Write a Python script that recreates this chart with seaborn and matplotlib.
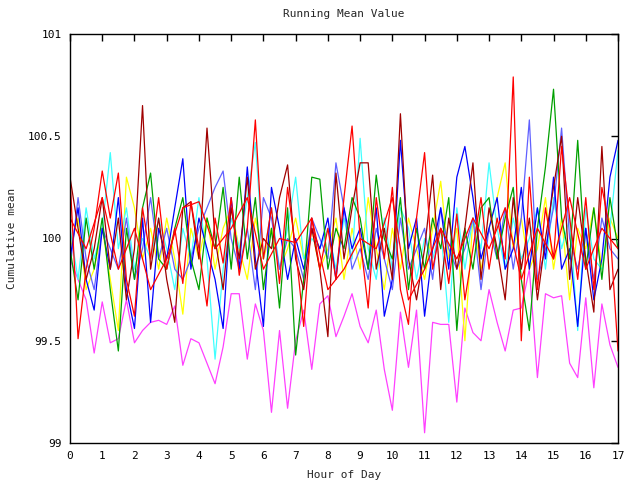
import pandas as pd
import matplotlib
matplotlib.use('Agg')
import matplotlib.pyplot as plt
import seaborn as sns

# hours sampled every quarter hour, 0..17
hours = [i * 0.25 for i in range(69)]
# one series only logged every half hour
hours_half = [i * 0.5 for i in range(35)]

magenta = [99.90, 99.80, 99.70, 99.44, 99.69, 99.49, 99.51, 99.70, 99.49, 99.55, 99.59, 99.60,
           99.58, 99.67, 99.38, 99.51, 99.49, 99.39, 99.29, 99.47, 99.73, 99.73, 99.41, 99.68,
           99.55, 99.15, 99.55, 99.17, 99.50, 99.65, 99.36, 99.68, 99.72, 99.52, 99.62, 99.73,
           99.57, 99.49, 99.65, 99.36, 99.16, 99.64, 99.37, 99.65, 99.05, 99.59, 99.58, 99.58,
           99.20, 99.66, 99.54, 99.50, 99.75, 99.59, 99.45, 99.65, 99.66, 99.85, 99.32, 99.73,
           99.71, 99.72, 99.39, 99.32, 99.71, 99.27, 99.68, 99.48, 99.37]
yellow = [99.95, 100.10, 99.75, 99.85, 100.05, 99.80, 99.55, 100.30, 100.15, 99.90, 100.05, 99.85,
          100.10, 99.90, 99.63, 100.05, 99.90, 100.10, 99.85, 100.05, 100.15, 99.95, 99.80, 100.10,
          99.90, 100.05, 99.85, 99.95, 100.10, 99.90, 100.05, 99.85, 99.95, 100.10, 99.80, 100.05,
          99.85, 100.20, 99.95, 99.75, 100.05, 99.85, 100.10, 99.95, 99.80, 100.05, 100.28, 99.90,
          100.05, 99.50, 100.10, 99.85, 100.05, 100.20, 100.37, 99.95, 100.10, 99.85, 99.95, 100.20,
          99.85, 100.10, 99.70, 100.05, 99.95, 100.15, 99.85, 100.10, 100.00]
cyan = [100.05, 99.80, 100.15, 99.90, 100.05, 100.42, 99.95, 100.15, 99.85, 100.00, 99.90, 100.10,
        99.95, 99.75, 100.05, 99.90, 100.20, 99.90, 99.41, 99.85, 100.10, 99.95, 100.20, 100.47,
        99.90, 100.15, 99.85, 100.05, 100.30, 99.90, 100.00, 99.95, 100.05, 99.85, 100.10, 99.90,
        100.49, 99.95, 99.80, 100.10, 99.85, 100.15, 100.05, 99.80, 100.00, 99.90, 100.05, 99.59,
        100.15, 99.85, 100.10, 99.95, 100.37, 100.05, 99.85, 100.10, 99.90, 100.00, 100.15, 99.85,
        100.20, 99.95, 100.10, 99.55, 100.15, 99.90, 99.85, 100.05, 100.43]
slateblue = [99.85, 100.20, 99.90, 99.75, 100.05, 99.95, 99.85, 100.10, 99.80, 99.95, 100.20, 99.90,
             100.05, 99.85, 99.80, 99.90, 100.05, 100.15, 100.25, 100.33, 100.00, 99.85, 100.05, 99.75,
             100.20, 100.10, 99.85, 100.00, 99.95, 99.80, 100.10, 100.00, 99.90, 100.37, 100.15, 99.85,
             99.95, 99.80, 100.05, 99.90, 99.75, 100.10, 99.85, 99.95, 100.05, 99.80, 100.15, 99.95,
             99.85, 99.95, 100.10, 99.75, 100.05, 99.90, 100.15, 99.85, 100.10, 100.58, 99.80, 99.95,
             100.15, 100.54, 100.00, 99.85, 100.05, 99.80, 100.10, 99.95, 99.90]
blue = [99.90, 100.15, 99.80, 99.65, 100.05, 99.85, 100.20, 99.75, 99.56, 100.10, 99.59, 100.05,
        99.90, 100.15, 100.39, 99.85, 100.10, 99.95, 99.80, 99.56, 100.20, 99.85, 100.35, 99.90,
        99.57, 100.25, 100.05, 99.80, 100.00, 99.85, 100.05, 99.95, 100.10, 99.80, 100.15, 99.95,
        100.05, 99.85, 100.15, 99.62, 99.80, 100.48, 99.95, 100.10, 99.62, 99.95, 100.15, 99.85,
        100.30, 100.45, 100.20, 99.90, 100.05, 100.20, 99.85, 99.95, 100.25, 99.85, 100.15, 99.90,
        100.30, 99.85, 99.95, 99.57, 100.05, 99.70, 99.90, 100.30, 100.48]
green = [99.95, 99.70, 100.10, 99.85, 100.10, 99.75, 99.45, 100.05, 99.80, 100.15, 100.32, 99.90,
         99.85, 100.05, 100.20, 99.90, 99.75, 100.10, 99.95, 100.25, 99.85, 100.30, 99.90, 100.20,
         99.75, 100.05, 99.66, 100.15, 99.43, 99.80, 100.30, 100.29, 99.85, 100.05, 99.95, 100.20,
         100.10, 99.85, 100.31, 100.00, 99.90, 100.20, 99.75, 100.05, 99.85, 100.10, 99.95, 100.20,
         99.55, 100.05, 99.85, 100.15, 100.20, 99.90, 100.10, 100.25, 99.80, 99.55, 100.05, 100.35,
         100.73, 100.10, 99.90, 100.48, 99.85, 100.15, 99.80, 100.20, 99.95]
darkred = [100.30, 100.05, 99.80, 99.95, 100.20, 99.85, 100.10, 99.70, 99.95, 100.65, 99.85, 100.10,
           99.80, 99.59, 100.15, 100.18, 99.90, 100.54, 100.00, 99.75, 100.15, 99.90, 100.30, 99.85,
           100.00, 99.95, 100.20, 100.36, 99.90, 99.75, 100.05, 99.85, 99.52, 100.32, 99.90, 100.15,
           100.37, 100.37, 99.85, 100.05, 99.80, 100.61, 99.90, 99.70, 99.95, 100.31, 99.75, 100.10,
           99.85, 100.05, 100.37, 99.80, 100.15, 99.95, 99.70, 100.20, 99.85, 100.10, 99.70, 100.00,
           100.25, 100.50, 99.80, 100.20, 99.90, 99.64, 100.45, 99.75, 99.85]
red_slow = [100.10, 99.95, 100.20, 99.85, 100.05, 99.75, 99.90, 100.15, 100.18, 99.95, 100.05, 100.20,
            99.85, 100.00, 99.98, 100.10, 99.75, 99.85, 100.00, 99.95, 100.20, 99.70, 99.85, 100.05,
            99.90, 100.10, 99.95, 100.15, 99.80, 100.05, 99.90, 100.20, 99.85, 100.05, 99.95]
red = [100.30, 99.51, 99.85, 100.05, 100.33, 100.10, 100.32, 99.80, 99.62, 100.15, 99.90, 100.20,
       99.85, 100.05, 99.78, 100.18, 99.95, 99.67, 100.10, 99.88, 100.20, 99.82, 100.05, 100.58,
       99.90, 100.15, 99.78, 100.25, 99.95, 99.57, 100.10, 99.85, 100.05, 99.80, 100.20, 100.55,
       100.00, 99.66, 100.20, 99.90, 100.25, 99.75, 99.58, 100.10, 100.42, 99.85, 100.05, 99.78,
       100.12, 99.70, 99.95, 100.20, 99.85, 100.10, 99.90, 100.79, 99.50, 100.30, 99.75, 100.15,
       99.90, 100.45, 100.10, 99.80, 100.20, 99.75, 100.25, 100.05, 99.45]

series = {'magenta': (hours, magenta), 'yellow': (hours, yellow), 'cyan': (hours, cyan),
          'slateblue': (hours, slateblue), 'blue': (hours, blue), 'green': (hours, green),
          'darkred': (hours, darkred), 'red_slow': (hours_half, red_slow), 'red': (hours, red)}
palette = {'magenta': '#ff40ff', 'yellow': '#ffff00', 'cyan': '#40ffff', 'slateblue': '#6060ff',
           'blue': '#0000ff', 'green': '#00a000', 'darkred': '#a00000', 'red_slow': '#ff0000',
           'red': '#ff0000'}

rows = []
for name, (xs, vals) in series.items():
    for h, v in zip(xs, vals):
        rows.append({'hour': h, 'value': v, 'series': name})
df = pd.DataFrame(rows)

sns.set_style('white')
plt.rcParams['font.family'] = ['DejaVu Sans Mono']
plt.rcParams['font.size'] = 8

fig = plt.figure(figsize=(6.4, 4.8), dpi=100)
ax = fig.add_axes([70 / 640, 1 - 443 / 480, 548 / 640, 409 / 480])
sns.lineplot(data=df, x='hour', y='value', hue='series', hue_order=list(series.keys()),
             palette=palette, estimator=None, linewidth=0.9, legend=False, ax=ax)

ax.set_xlim(0, 17)
ax.set_ylim(99, 101)
ax.set_xticks(range(0, 18))
ax.set_yticks([99, 99.5, 100, 100.5, 101])
ax.set_yticklabels(['99', '99.5', '100', '100.5', '101'])
ax.tick_params(direction='in', length=5, width=1, top=True, right=True, colors='black',
               labelsize=8, pad=6)
for s in ax.spines.values():
    s.set_color('black')
    s.set_linewidth(1)
ax.set_title('Running Mean Value', fontsize=8, pad=12)
ax.set_xlabel('Hour of Day', fontsize=8, labelpad=6)
ax.set_ylabel('Cumulative mean', fontsize=8, labelpad=8)

fig.savefig('out.png', dpi=100)
